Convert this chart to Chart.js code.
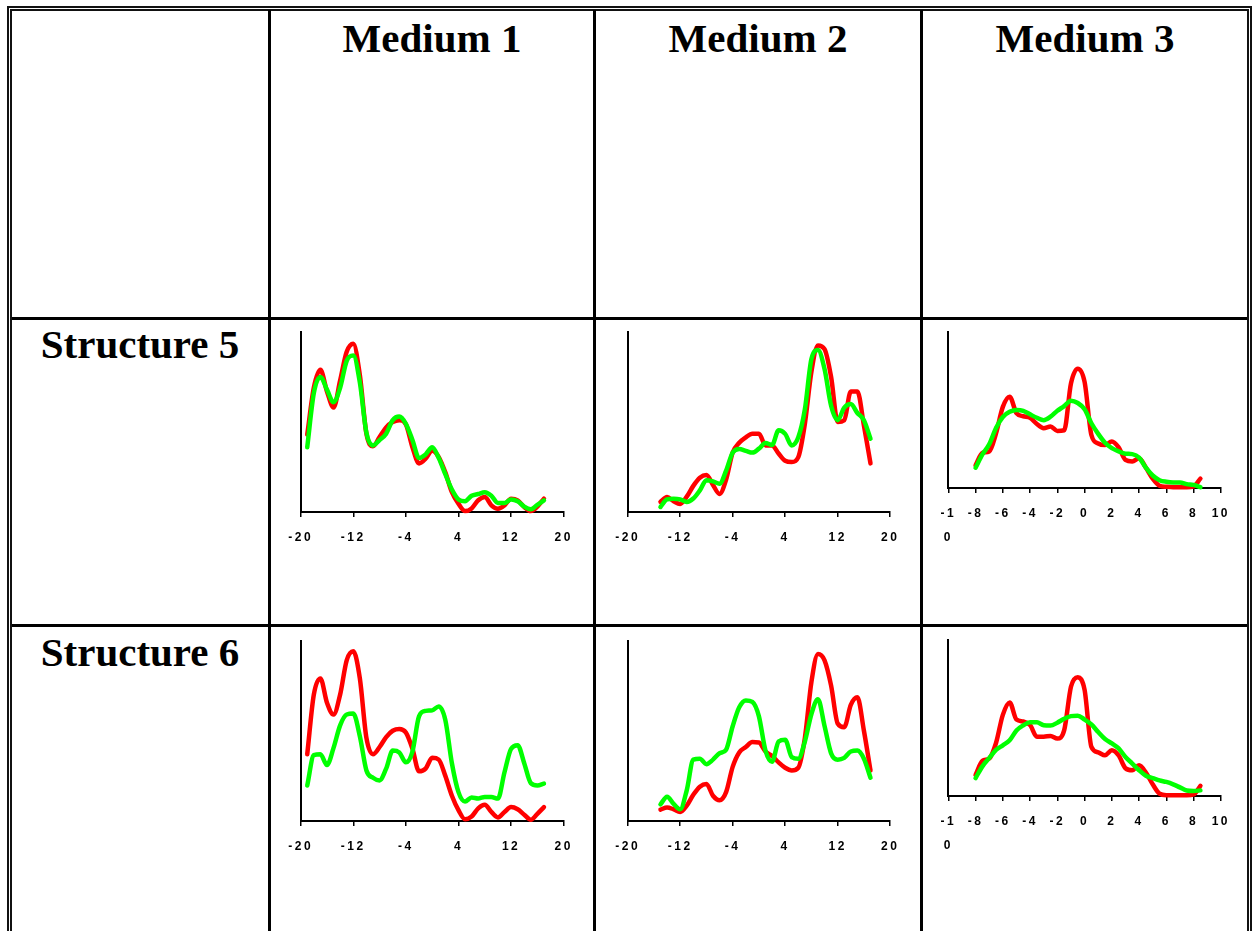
<!DOCTYPE html>
<html>
<head>
<meta charset="utf-8">
<script src="https://cdn.jsdelivr.net/npm/chart.js@4"></script>
<style>
  html, body { margin: 0; padding: 0; background: #fff; overflow: hidden; }
  body { width: 1254px; height: 931px; position: relative; }
  .frame { position: absolute; left: 7px; top: 6px; width: 1235px; height: 1000px; border: 5px double #111; border-bottom: none; }
  .vl { position: absolute; top: 10px; width: 3px; height: 940px; background: #000; }
  .hl { position: absolute; left: 12px; width: 1235px; height: 2.5px; background: #000; }
  .head { position: absolute; font: bold 41px/41px "Liberation Serif", "Times New Roman", serif; text-align: center; color: #000; white-space: nowrap; }
  .box { position: absolute; }
</style>
</head>
<body>
<div class="frame"></div>
<div class="vl" style="left:268px"></div>
<div class="vl" style="left:593px"></div>
<div class="vl" style="left:920px"></div>
<div class="hl" style="top:317px"></div>
<div class="hl" style="top:624px"></div>

<div class="head" style="left:271px;width:322px;top:18px">Medium 1</div>
<div class="head" style="left:596px;width:324px;top:18px">Medium 2</div>
<div class="head" style="left:923px;width:324px;top:18px">Medium 3</div>
<div class="head" style="left:12px;width:256px;top:324px">Structure 5</div>
<div class="head" style="left:12px;width:256px;top:632px">Structure 6</div>

<script>
// x positions of the samples
const xM1 = [-19, -18, -17, -16, -15, -14, -13, -12, -11, -10, -9, -8, -7, -6, -5, -4, -3, -2, -1, 0,
             1, 2, 3, 4, 5, 6, 7, 8, 9, 10, 11, 12, 13, 14, 15, 16, 17];
const xM2 = [-15, -14, -13, -12, -11, -10, -9, -8, -7, -6, -5, -4, -3, -2, -1, 0,
             1, 2, 3, 4, 5, 6, 7, 8, 9, 10, 11, 12, 13, 14, 15, 16, 17];
const xM3 = [-8, -7.5, -7, -6.5, -6, -5.5, -5, -4.5, -4, -3.5, -3, -2.5, -2, -1.5, -1, -0.5, 0,
             0.5, 1, 1.5, 2, 2.5, 3, 3.5, 4, 4.5, 5, 5.5, 6, 6.5, 7, 7.5, 8, 8.5];

// tick labels
const ticksM12 = [-20, -12, -4, 4, 12, 20];
const labelsM12 = ['-20', '-12', '-4', '4', '12', '20'];
const ticksM3 = [-10, -8, -6, -4, -2, 0, 2, 4, 6, 8, 10];
const labelsM3 = [['-1', '0'], '-8', '-6', '-4', '-2', '0', '2', '4', '6', '8', '10'];

// Structure 5
const s5m1Red = [43, 69, 79, 67, 58, 73, 89, 93.5, 76, 43.5, 36.5, 41.7, 47, 50, 51, 48.7, 36, 27, 29.6, 34,
                 30.5, 22, 11, 4.6, 0.5, 2, 6.5, 8.3, 3.7, 1.8, 3.7, 7.4, 6.5, 2.8, 0.5, 3, 7.4];
const s5m1Green = [36, 66, 75, 68, 61, 69, 84, 87, 72, 44, 37, 40, 43.5, 51, 53, 49, 40, 30, 32, 36,
                   30, 21, 12.5, 7, 6, 9, 10, 11, 9, 5, 5, 7, 6, 3, 1.5, 4, 6.5];
const s5m2Red = [5.6, 8.3, 6, 4.5, 8.5, 14.5, 19, 20.5, 15, 10, 18, 33, 38.5, 41.5, 43.5, 43.5,
                 37, 37, 32.5, 28.5, 27.8, 30.5, 49, 78, 92.5, 90.5, 75, 50, 51, 67, 67, 48, 27];
const s5m2Green = [2.8, 7, 7.4, 7, 5.6, 7.5, 12, 17.6, 17, 15.7, 23, 33, 35, 34, 33, 35.2,
                   38.3, 37.2, 45.4, 43.4, 37, 41.5, 57, 85, 90, 79.4, 59, 51, 58, 60, 55, 51, 40.7];
const s5m3Red = [14.5, 22.5, 23.4, 35, 52, 58.5, 48, 46, 45, 41, 38.3, 39.4, 36.6, 37, 67, 76.5, 68,
                 34, 28.5, 27.5, 29.8, 26, 18, 17, 19, 13, 6, 1.5, 0.8, 0.5, 0.5, 0.5, 1, 6];
const s5m3Green = [13, 21.5, 28, 38.5, 45.5, 48.8, 50, 49.5, 47.2, 45, 43.5, 45.7, 49.5, 52.5, 56, 54.5, 50.5,
                   41.5, 34.7, 29, 25.5, 23.5, 22, 21.7, 19.5, 13, 8, 5, 4, 3.6, 3.6, 2.5, 2, 0.5];

// Structure 6
const s6m1Red = [37, 70, 79, 65.5, 59, 70, 89, 94, 79, 46, 37, 41, 46.5, 50, 51, 49, 40, 27.5, 29, 35,
                 34, 25, 14, 6, 1, 2.5, 7, 9, 5, 2, 5, 7.7, 6.5, 3.5, 0.7, 4, 7.7];
const s6m1Green = [19.7, 36.5, 37, 31, 40.5, 53, 59, 59.5, 47, 28, 24, 22.5, 29, 39, 38, 32.5, 38.5, 58, 61, 61.3,
                   63.5, 56, 32, 16, 10.8, 13, 12.5, 13.3, 13.3, 12.4, 27, 40, 42, 32, 21, 19.7, 20.7];
const s6m2Red = [6.3, 7.5, 6.5, 5, 8.5, 14.5, 19, 20.5, 14, 11.5, 16, 30, 38, 41, 43.7, 43.5,
                 38.5, 36, 32.5, 29.5, 28, 29.5, 46, 77, 92.5, 89, 75, 54, 52, 64.3, 68.5, 50, 28];
const s6m2Green = [9.2, 13.5, 9.5, 6.5, 17, 34, 34.5, 31.5, 34, 37.5, 39.5, 52.5, 63, 66.8, 66, 58,
                   39, 32.8, 44, 45, 35.4, 34.5, 44, 59.3, 67.5, 52.6, 37.5, 34, 35, 38.5, 39, 34.5, 24];
const s6m3Red = [13.5, 22.5, 24, 34, 52, 60, 49, 47.8, 45.5, 38, 38, 38.5, 36.8, 42, 70, 76.2, 68,
                 31.5, 28, 26.1, 29.3, 26, 17.8, 16.5, 19.7, 15, 7.5, 1.5, 0.5, 0.5, 0.5, 0.5, 1, 6.5];
const s6m3Green = [11.5, 19, 24.3, 29.5, 32.5, 35.7, 42, 45.3, 47.3, 47.2, 45.4, 45.2, 47, 49.5, 51.2, 51.5, 49,
                   45.9, 41, 36.5, 33.7, 30.5, 25, 20.8, 16.5, 13, 11.5, 10, 9, 7.5, 5.5, 3.5, 3.2, 3.6];

// wide tracking on the axis numbers
const spacing = {
  id: 'spacing',
  beforeDraw(chart) { chart.ctx.letterSpacing = '2.5px'; },
  afterDraw(chart) { chart.ctx.letterSpacing = '0px'; }
};

function pts(xs, ys) {
  return xs.map((x, i) => ({ x: x, y: ys[i] }));
}

function draw(area, xs, red, green, tickVals, tickLabels) {
  const box = document.createElement('div');
  box.className = 'box';
  const canvas = document.createElement('canvas');
  canvas.width = 330;
  canvas.height = 270;
  box.appendChild(canvas);
  document.body.appendChild(box);

  const pad = { left: 4, right: 4, top: 4, bottom: 4 };
  const chart = new Chart(canvas, {
    type: 'line',
    data: {
      datasets: [
        { data: pts(xs, green), borderColor: '#00ff00', order: 1, clip: false },
        { data: pts(xs, red), borderColor: '#ff0000', order: 2, clip: false }
      ]
    },
    options: {
      responsive: false,
      animation: false,
      events: [],
      layout: { padding: pad },
      elements: {
        line: { borderWidth: 4.5, cubicInterpolationMode: 'monotone', borderCapStyle: 'round', borderJoinStyle: 'round', fill: false },
        point: { radius: 0 }
      },
      plugins: { legend: { display: false }, tooltip: { enabled: false } },
      scales: {
        x: {
          type: 'linear',
          min: tickVals[0],
          max: tickVals[tickVals.length - 1],
          afterBuildTicks: s => { s.ticks = tickVals.map(v => ({ value: v })); },
          ticks: {
            autoSkip: false, maxRotation: 0, padding: 9, color: '#000',
            font: { family: '"Liberation Sans", Arial, sans-serif', size: 12, weight: 'bold', lineHeight: 2 },
            callback: (v, i) => tickLabels[i]
          },
          grid: { display: true, drawOnChartArea: false, drawTicks: true, tickLength: 5, color: '#000', lineWidth: 1.5 },
          border: { display: true, color: '#000', width: 2 }
        },
        y: {
          min: 0, max: 100,
          ticks: { display: false },
          grid: { display: false },
          border: { display: true, color: '#000', width: 2 }
        }
      }
    },
    plugins: [spacing]
  });

  // fit the plot area to the cell
  for (let k = 0; k < 3; k++) {
    const a = chart.chartArea;
    pad.right += (a.right - a.left) - (area.r - area.l);
    pad.top += (a.bottom - a.top) - (area.b - area.t);
    chart.update('none');
  }
  const a = chart.chartArea;
  box.style.left = (area.l - a.left) + 'px';
  box.style.top = (area.t - a.top) + 'px';
}

draw({ l: 301, t: 332, r: 564, b: 512 }, xM1, s5m1Red, s5m1Green, ticksM12, labelsM12);
draw({ l: 627.5, t: 332, r: 890, b: 512 }, xM2, s5m2Red, s5m2Green, ticksM12, labelsM12);
draw({ l: 948, t: 332, r: 1220.5, b: 488 }, xM3, s5m3Red, s5m3Green, ticksM3, labelsM3);
draw({ l: 301, t: 640, r: 564, b: 820.5 }, xM1, s6m1Red, s6m1Green, ticksM12, labelsM12);
draw({ l: 627.5, t: 640, r: 890, b: 820.5 }, xM2, s6m2Red, s6m2Green, ticksM12, labelsM12);
draw({ l: 948, t: 640, r: 1220.5, b: 796 }, xM3, s6m3Red, s6m3Green, ticksM3, labelsM3);
</script>
</body>
</html>
